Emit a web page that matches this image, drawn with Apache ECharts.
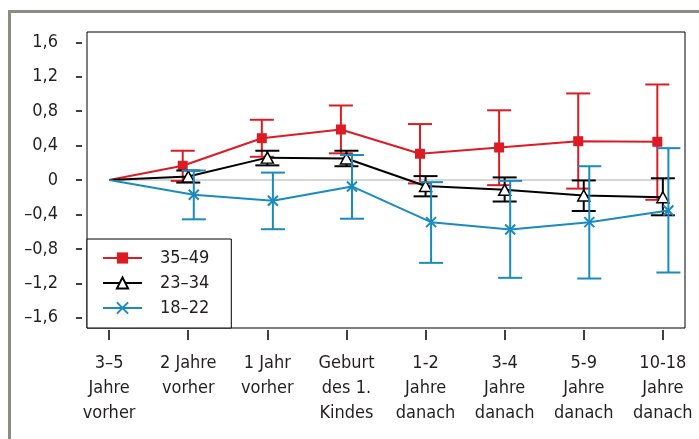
<!DOCTYPE html>
<html>
<head>
<meta charset="utf-8">
<script src="https://cdn.jsdelivr.net/npm/echarts@6/dist/echarts.min.js"></script>
<style>
html,body{margin:0;padding:0;background:#fff;}
#chart{width:699px;height:439px;}
</style>
</head>
<body>
<div id="chart"></div>
<script>
// Kategorien (x-Achse)
var xLabels = ['3–5\nJahre\nvorher', '2 Jahre\nvorher', '1 Jahr\nvorher', 'Geburt\ndes 1.\nKindes',
    '1-2\nJahre\ndanach', '3-4\nJahre\ndanach', '5-9\nJahre\ndanach', '10-18\nJahre\ndanach'];
var yTicks = [-1.6, -1.2, -0.8, -0.4, 0, 0.4, 0.8, 1.2, 1.6];

// 35–49
var red = [0, 0.165, 0.486, 0.587, 0.305, 0.378, 0.451, 0.444];
var redLow = [null, -0.01, 0.27, 0.31, -0.04, -0.06, -0.10, -0.23];
var redHigh = [null, 0.34, 0.70, 0.866, 0.65, 0.81, 1.006, 1.11];
// 23–34
var black = [0, 0.04, 0.26, 0.25, -0.07, -0.114, -0.18, -0.20];
var blackLow = [null, -0.03, 0.17, 0.16, -0.19, -0.25, -0.36, -0.41];
var blackHigh = [null, 0.11, 0.34, 0.34, 0.045, 0.03, -0.005, 0.02];
// 18–22
var blue = [0, -0.172, -0.242, -0.075, -0.49, -0.575, -0.49, -0.355];
var blueLow = [null, -0.457, -0.572, -0.45, -0.963, -1.137, -1.145, -1.075];
var blueHigh = [null, 0.11, 0.086, 0.29, -0.025, -0.01, 0.16, 0.37];

var FONT = "'Liberation Sans Narrow','DejaVu Sans Condensed','Roboto Condensed','Liberation Sans',sans-serif";
var TXT = '#231f20';

function fmtY(v) {
    if (Math.abs(v) < 1e-9) return '0';
    return (v < 0 ? '–' : '') + Math.abs(v).toFixed(1).replace('.', ',');
}

function lineData(vals, dodge) {
    var out = [];
    for (var i = 0; i < vals.length; i++) {
        var item = {value: [i === 0 ? 0 : i + dodge, vals[i]]};
        if (i === 0) item.symbol = 'none';
        out.push(item);
    }
    return out;
}
function errData(low, high, dodge) {
    var out = [];
    for (var i = 0; i < low.length; i++) {
        if (low[i] == null) continue;
        out.push([i + dodge, low[i], high[i]]);
    }
    return out;
}
function errSeries(low, high, dodge, color, z) {
    return {
        type: 'custom',
        z: z,
        data: errData(low, high, dodge),
        encode: {x: 0, y: [1, 2]},
        renderItem: function (params, api) {
            var lo = api.coord([api.value(0), api.value(1)]);
            var hi = api.coord([api.value(0), api.value(2)]);
            var w = 12;
            var st = {stroke: color, lineWidth: 2};
            return {
                type: 'group',
                children: [
                    {type: 'line', shape: {x1: lo[0], y1: lo[1], x2: hi[0], y2: hi[1]}, style: st},
                    {type: 'line', shape: {x1: lo[0] - w, y1: lo[1], x2: lo[0] + w, y2: lo[1]}, style: st},
                    {type: 'line', shape: {x1: hi[0] - w, y1: hi[1], x2: hi[0] + w, y2: hi[1]}, style: st}
                ]
            };
        }
    };
}

var cRed = '#dc1c24', cBlack = '#000000', cBlue = '#1a8bbd';

var myChart = echarts.init(document.getElementById('chart'));
var option = {
    animation: false,
    textStyle: {fontFamily: FONT},
    graphic: [{
        type: 'rect', silent: true, z: -10,
        shape: {x: 9.5, y: 11.5, width: 720, height: 460},
        style: {fill: 'none', stroke: '#8c8c84', lineWidth: 3}
    }],
    grid: {left: 87, top: 32, right: 14, bottom: 111, show: true, borderColor: '#000', borderWidth: 1, backgroundColor: 'transparent'},
    xAxis: {
        type: 'value', min: -0.28, max: 7.28, offset: 2,
        splitLine: {show: false},
        axisLine: {show: false, onZero: false},
        axisTick: {show: true, length: 10, lineStyle: {color: '#000', width: 1.5}, customValues: [0, 1, 2, 3, 4, 5, 6, 7]},
        axisLabel: {
            customValues: [0, 1, 2, 3, 4, 5, 6, 7],
            margin: 21, fontSize: 18, lineHeight: 25, color: TXT, fontFamily: FONT,
            formatter: function (v) { return xLabels[Math.round(v)]; }
        }
    },
    yAxis: {
        type: 'value', min: -1.72, max: 1.72, offset: 5,
        splitLine: {show: false},
        axisLine: {show: false, onZero: false},
        axisTick: {show: true, length: 6, lineStyle: {color: '#000', width: 1.5}, customValues: yTicks},
        axisLabel: {
            customValues: yTicks, margin: 24, fontSize: 18, color: TXT, fontFamily: FONT,
            formatter: fmtY
        }
    },
    legend: {
        orient: 'vertical', left: 87, top: 239,
        padding: [9, 22, 10, 15],
        itemGap: 5, itemWidth: 39, itemHeight: 14,
        backgroundColor: '#fff', borderColor: '#000', borderWidth: 1,
        textStyle: {fontSize: 18, lineHeight: 20, color: TXT, fontFamily: FONT, padding: [0, 0, 0, 13]},
        data: ['35–49', '23–34', '18–22'],
        z: 10
    },
    series: [
        {
            type: 'line', silent: true, z: 1, symbol: 'none',
            lineStyle: {color: '#c8c8c8', width: 1.5},
            data: [[0, 0], [7.1, 0]]
        },
        errSeries(redLow, redHigh, -0.07, cRed, 2),
        {
            name: '35–49', type: 'line', z: 3,
            data: lineData(red, -0.07),
            symbol: 'rect', symbolSize: 10,
            lineStyle: {color: cRed, width: 2},
            itemStyle: {color: cRed}
        },
        errSeries(blackLow, blackHigh, 0, cBlack, 4),
        {
            name: '23–34', type: 'line', z: 5,
            data: lineData(black, 0),
            symbol: 'triangle', symbolSize: [12, 11],
            lineStyle: {color: cBlack, width: 2},
            itemStyle: {color: '#fff', borderColor: cBlack, borderWidth: 1.5}
        },
        errSeries(blueLow, blueHigh, 0.07, cBlue, 6),
        {
            name: '18–22', type: 'line', z: 7,
            data: lineData(blue, 0.07),
            symbol: 'path://M0,0L10,10M10,0L0,10', symbolSize: 10,
            lineStyle: {color: cBlue, width: 2},
            itemStyle: {color: cBlue, borderColor: cBlue, borderWidth: 2}
        }
    ]
};
myChart.setOption(option);
</script>
</body>
</html>
